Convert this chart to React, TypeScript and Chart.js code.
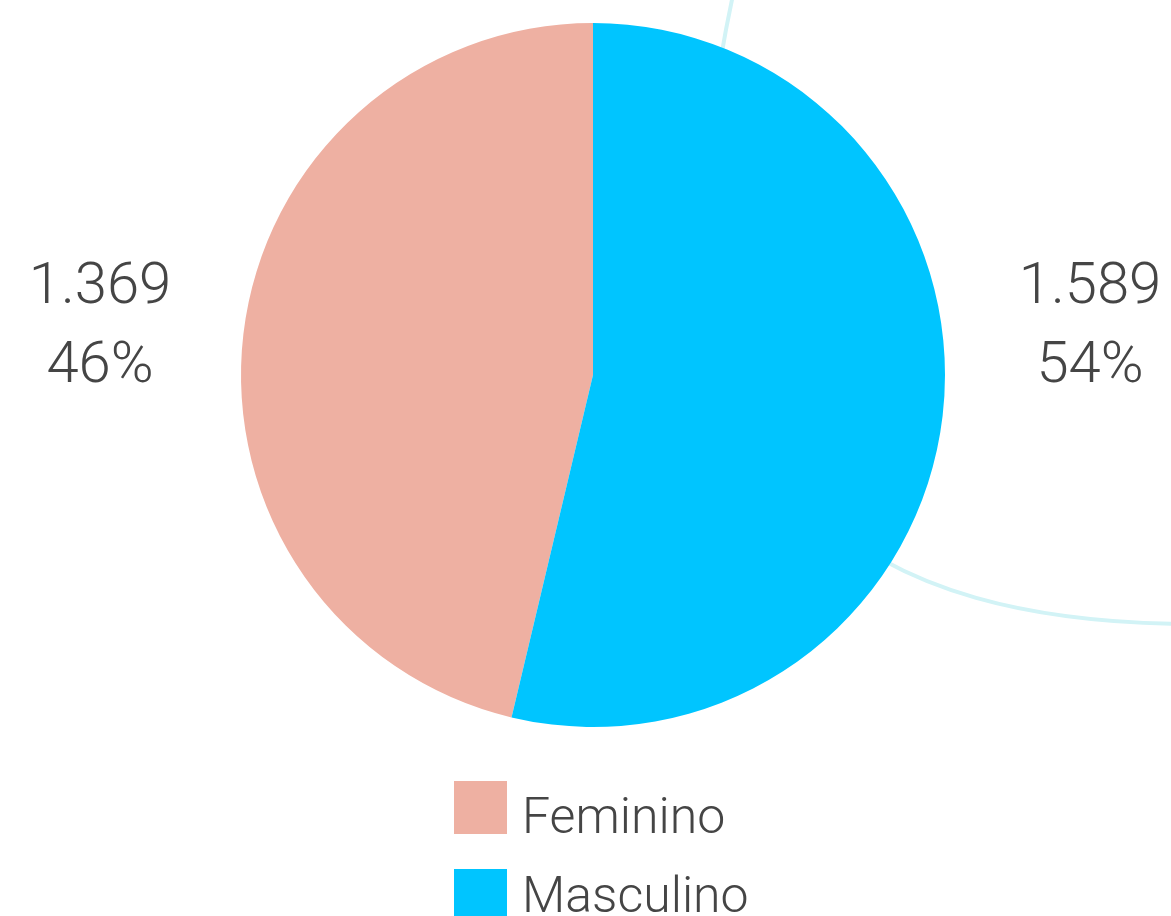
import React, { useEffect, useRef } from "react";
import { Chart, registerables } from "chart.js";

Chart.register(...registerables);

const categories = ["Feminino", "Masculino"];
const values = [1369, 1589];
const colors = ["#EEB0A2", "#00C5FF"];
const textColor = "#454545";

const fmt = (n: number) => String(n).replace(/\B(?=(\d{3})+(?!\d))/g, ".");

export default function App() {
  const ref = useRef<HTMLCanvasElement | null>(null);

  useEffect(() => {
    const canvas = ref.current;
    if (!canvas) return;
    const total = values.reduce((a, b) => a + b, 0);
    const rotation = (360 * values[1]) / total;

    const decor = {
      id: "decor",
      beforeDatasetsDraw(chart: any) {
        const ctx = chart.ctx;
        ctx.save();
        ctx.strokeStyle = "#D2F3F6";
        ctx.lineWidth = 4;
        ctx.beginPath();
        ctx.moveTo(733, -5);
        ctx.bezierCurveTo(620, 520, 900, 620, 1180, 624);
        ctx.stroke();
        ctx.restore();
      },
    };

    const labelsPlugin = {
      id: "sideLabels",
      afterDraw(chart: any) {
        const ctx = chart.ctx;
        const meta = chart.getDatasetMeta(0);
        const arc = meta.data[0];
        const cx = arc.x;
        const cy = arc.y;
        ctx.save();
        ctx.fillStyle = textColor;
        ctx.font = "300 58px Roboto";
        ctx.textAlign = "center";
        ctx.textBaseline = "alphabetic";
        values.forEach((v, i) => {
          const x = i === 0 ? cx - 493 : cx + 497;
          const pct = Math.round((v / total) * 100) + "%";
          ctx.fillText(fmt(v), x, cy - 72);
          ctx.fillText(pct, x, cy + 7);
        });
        // legend
        ctx.textAlign = "left";
        ctx.font = "300 50px Roboto";
        categories.forEach((c, i) => {
          const by = 781 + i * 88;
          ctx.fillStyle = colors[i];
          ctx.fillRect(cx - 139, by, 53, 53);
          ctx.fillStyle = textColor;
          ctx.fillText(c, cx - 71, 833 + i * 79);
        });
        ctx.restore();
      },
    };

    const chart = new Chart(canvas, {
      type: "pie",
      data: {
        labels: categories,
        datasets: [
          {
            data: values,
            backgroundColor: colors,
            borderWidth: 0,
            hoverOffset: 0,
          },
        ],
      },
      options: {
        responsive: false,
        animation: false,
        rotation: rotation,
        layout: { padding: { top: 23, bottom: 189, left: 15, right: 0 } },
        plugins: {
          legend: { display: false },
          tooltip: { enabled: false },
        },
      },
      plugins: [decor, labelsPlugin],
    });
    return () => chart.destroy();
  }, []);

  return (
    <div style={{ position: "absolute", left: 0, top: 0, width: 1171, height: 916, overflow: "hidden", background: "#fff" }}>
      <canvas ref={ref} width={1171} height={916} style={{ display: "block" }} />
    </div>
  );
}
